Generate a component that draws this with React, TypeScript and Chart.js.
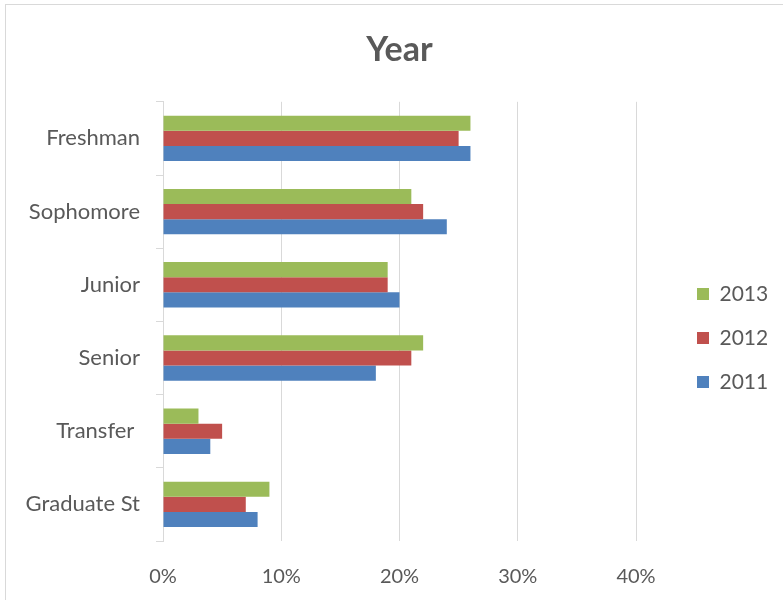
import React, { useEffect, useRef } from "react";
import { Chart, registerables } from "chart.js";

Chart.register(...registerables);

const categories = ["Freshman", "Sophomore", "Junior", "Senior", "Transfer ", "Graduate St"];
const seriesNames = ["2013", "2012", "2011"];
const values2013 = [26, 21, 19, 22, 3, 9];
const values2012 = [25, 22, 19, 21, 5, 7];
const values2011 = [26, 24, 20, 18, 4, 8];
const seriesColors = ["#9BBB59", "#C0504D", "#4F81BD"];
const xMax = 40;
const xStep = 10;

const FONT = "Lato, 'Open Sans', sans-serif";
const TEXT = "#595959";
const GRID = "#d9d9d9";

export default function App() {
  const ref = useRef<HTMLCanvasElement | null>(null);

  useEffect(() => {
    if (!ref.current) return;
    const seriesValues = [values2013, values2012, values2011];
    const chart = new Chart(ref.current, {
      type: "bar",
      data: {
        labels: categories,
        datasets: seriesNames.map((name, i) => ({
          label: name,
          data: seriesValues[i],
          backgroundColor: seriesColors[i],
          borderWidth: 0,
          categoryPercentage: 0.62,
          barPercentage: 1,
        })),
      },
      options: {
        indexAxis: "y",
        animation: false,
        responsive: false,
        layout: { padding: { top: 0, left: 0, right: 9, bottom: 0 } },
        scales: {
          x: {
            min: 0,
            max: xMax,
            ticks: {
              stepSize: xStep,
              callback: (v: any) => v + "%",
              color: TEXT,
              font: { family: FONT, size: 20 },
              padding: 24,
            },
            grid: { color: GRID, lineWidth: 1, drawTicks: false },
            border: { display: false },
            afterFit: (s: any) => {
              s.height = 59;
            },
          },
          y: {
            ticks: {
              color: TEXT,
              font: { family: FONT, size: 22 },
              padding: 16,
            },
            grid: {
              offset: true,
              drawOnChartArea: false,
              drawTicks: true,
              tickLength: 7,
              color: GRID,
            },
            border: { display: true, color: GRID },
            afterFit: (s: any) => {
              s.width = 163;
            },
          },
          y2: {
            type: "linear",
            position: "right",
            display: true,
            grid: { display: false, drawTicks: false },
            border: { display: false },
            ticks: { display: false },
            afterFit: (s: any) => {
              s.width = 38;
            },
          },
        },
        plugins: {
          title: {
            display: true,
            text: "Year",
            fullSize: false,
            color: TEXT,
            font: { family: FONT, size: 34, weight: "bold" },
            padding: { top: 30, bottom: 31 },
          },
          legend: {
            display: true,
            position: "right",
            fullSize: false,
            maxWidth: 100,
            title: {
              display: true,
              text: " ",
              font: { size: 10, lineHeight: 1 },
              padding: { top: 23, bottom: 0 },
            },
            labels: {
              boxWidth: 12,
              boxHeight: 12,
              padding: 23,
              color: TEXT,
              textAlign: "left",
              font: { family: FONT, size: 21 },
            },
          },
          tooltip: { enabled: false },
        },
      },
    });
    return () => chart.destroy();
  }, []);

  return (
    <div
      style={{
        position: "fixed",
        left: 0,
        top: 0,
        width: 783,
        height: 600,
        overflow: "hidden",
        background: "#fff",
      }}
    >
      <div
        style={{
          position: "absolute",
          left: 5,
          top: 4,
          width: 900,
          height: 900,
          border: `1px solid ${GRID}`,
        }}
      />
      <canvas
        ref={ref}
        width={783}
        height={600}
        style={{ position: "absolute", left: 0, top: 0, width: 783, height: 600 }}
      />
    </div>
  );
}
